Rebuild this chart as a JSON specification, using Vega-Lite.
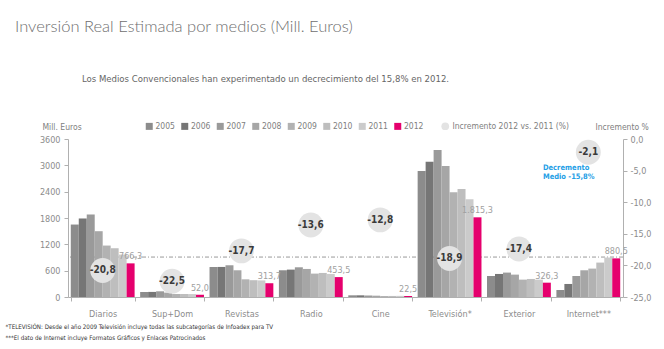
{
  "$schema": "https://vega.github.io/schema/vega-lite/v6.json",
  "width": 555,
  "height": 158,
  "autosize": {"type": "none"},
  "padding": {"left": 68, "top": 139, "right": 41, "bottom": 52},
  "background": "white",
  "config": {
    "locale": {"number": {"decimal": ",", "thousands": ".", "grouping": [3], "currency": ["", " €"], "minus": "-"}},
    "font": "DejaVu Sans Condensed, Roboto, sans-serif",
    "view": {"stroke": null},
    "axis": {
      "grid": false,
      "labelColor": "#8c8c8c",
      "labelFontSize": 9,
      "labelOverlap": false,
      "domainColor": "#b0b0b0",
      "tickColor": "#b0b0b0",
      "tickSize": 4,
      "titleFontWeight": "normal",
      "titleColor": "#808080",
      "titleFontSize": 8.5
    },
    "legend": {"labelColor": "#808080", "labelFontSize": 8.5}
  },
  "title": {
    "text": "Inversión Real Estimada por medios (Mill. Euros)",
    "anchor": "start",
    "frame": "group",
    "dx": -53,
    "offset": 38,
    "font": "Lato, DejaVu Sans Condensed, sans-serif",
    "fontSize": 16.5,
    "fontWeight": 300,
    "color": "#6f6f6f"
  },
  "datasets": {
    "inversion": [
      {"medio": "Diarios", "anio": "2005", "valor": 1651},
      {"medio": "Diarios", "anio": "2006", "valor": 1789},
      {"medio": "Diarios", "anio": "2007", "valor": 1880},
      {"medio": "Diarios", "anio": "2008", "valor": 1499},
      {"medio": "Diarios", "anio": "2009", "valor": 1172},
      {"medio": "Diarios", "anio": "2010", "valor": 1111},
      {"medio": "Diarios", "anio": "2011", "valor": 967},
      {"medio": "Diarios", "anio": "2012", "valor": 766.3},
      {"medio": "Sup+Dom", "anio": "2005", "valor": 114},
      {"medio": "Sup+Dom", "anio": "2006", "valor": 116},
      {"medio": "Sup+Dom", "anio": "2007", "valor": 130},
      {"medio": "Sup+Dom", "anio": "2008", "valor": 100},
      {"medio": "Sup+Dom", "anio": "2009", "valor": 68},
      {"medio": "Sup+Dom", "anio": "2010", "valor": 68},
      {"medio": "Sup+Dom", "anio": "2011", "valor": 67},
      {"medio": "Sup+Dom", "anio": "2012", "valor": 52.0},
      {"medio": "Revistas", "anio": "2005", "valor": 683},
      {"medio": "Revistas", "anio": "2006", "valor": 685},
      {"medio": "Revistas", "anio": "2007", "valor": 723},
      {"medio": "Revistas", "anio": "2008", "valor": 609},
      {"medio": "Revistas", "anio": "2009", "valor": 403},
      {"medio": "Revistas", "anio": "2010", "valor": 383},
      {"medio": "Revistas", "anio": "2011", "valor": 378},
      {"medio": "Revistas", "anio": "2012", "valor": 313.7},
      {"medio": "Radio", "anio": "2005", "valor": 609},
      {"medio": "Radio", "anio": "2006", "valor": 624},
      {"medio": "Radio", "anio": "2007", "valor": 677},
      {"medio": "Radio", "anio": "2008", "valor": 639},
      {"medio": "Radio", "anio": "2009", "valor": 533},
      {"medio": "Radio", "anio": "2010", "valor": 548},
      {"medio": "Radio", "anio": "2011", "valor": 525},
      {"medio": "Radio", "anio": "2012", "valor": 453.5},
      {"medio": "Cine", "anio": "2005", "valor": 38},
      {"medio": "Cine", "anio": "2006", "valor": 38},
      {"medio": "Cine", "anio": "2007", "valor": 34},
      {"medio": "Cine", "anio": "2008", "valor": 30},
      {"medio": "Cine", "anio": "2009", "valor": 22},
      {"medio": "Cine", "anio": "2010", "valor": 24},
      {"medio": "Cine", "anio": "2011", "valor": 26},
      {"medio": "Cine", "anio": "2012", "valor": 22.5},
      {"medio": "Televisión*", "anio": "2005", "valor": 2871},
      {"medio": "Televisión*", "anio": "2006", "valor": 3083},
      {"medio": "Televisión*", "anio": "2007", "valor": 3349},
      {"medio": "Televisión*", "anio": "2008", "valor": 2985},
      {"medio": "Televisión*", "anio": "2009", "valor": 2385},
      {"medio": "Televisión*", "anio": "2010", "valor": 2461},
      {"medio": "Televisión*", "anio": "2011", "valor": 2226},
      {"medio": "Televisión*", "anio": "2012", "valor": 1815.3},
      {"medio": "Exterior", "anio": "2005", "valor": 479},
      {"medio": "Exterior", "anio": "2006", "valor": 525},
      {"medio": "Exterior", "anio": "2007", "valor": 556},
      {"medio": "Exterior", "anio": "2008", "valor": 510},
      {"medio": "Exterior", "anio": "2009", "valor": 396},
      {"medio": "Exterior", "anio": "2010", "valor": 411},
      {"medio": "Exterior", "anio": "2011", "valor": 395},
      {"medio": "Exterior", "anio": "2012", "valor": 326.3},
      {"medio": "Internet***", "anio": "2005", "valor": 160},
      {"medio": "Internet***", "anio": "2006", "valor": 297},
      {"medio": "Internet***", "anio": "2007", "valor": 479},
      {"medio": "Internet***", "anio": "2008", "valor": 609},
      {"medio": "Internet***", "anio": "2009", "valor": 647},
      {"medio": "Internet***", "anio": "2010", "valor": 784},
      {"medio": "Internet***", "anio": "2011", "valor": 899},
      {"medio": "Internet***", "anio": "2012", "valor": 880.5}
    ],
    "incremento": [
      {"medio": "Diarios", "inc": -20.8, "serie": "Incremento 2012 vs. 2011 (%)"},
      {"medio": "Sup+Dom", "inc": -22.5, "serie": "Incremento 2012 vs. 2011 (%)"},
      {"medio": "Revistas", "inc": -17.7, "serie": "Incremento 2012 vs. 2011 (%)"},
      {"medio": "Radio", "inc": -13.6, "serie": "Incremento 2012 vs. 2011 (%)"},
      {"medio": "Cine", "inc": -12.8, "serie": "Incremento 2012 vs. 2011 (%)"},
      {"medio": "Televisión*", "inc": -18.9, "serie": "Incremento 2012 vs. 2011 (%)"},
      {"medio": "Exterior", "inc": -17.4, "serie": "Incremento 2012 vs. 2011 (%)"},
      {"medio": "Internet***", "inc": -2.1, "serie": "Incremento 2012 vs. 2011 (%)"}
    ],
    "referencia": [{"ref": 910}],
    "nota": [{"nota": "Decremento\nMedio -15,8%"}]
  },
  "layer": [
    {
      "layer": [
        {
          "data": {"name": "referencia"},
          "mark": {"type": "rule", "color": "#9a9a9a", "strokeDash": [4, 2, 1, 2], "strokeWidth": 1},
          "encoding": {"y": {"field": "ref", "type": "quantitative", "scale": {"domain": [0, 3600], "nice": false}, "axis": {"values": [0, 600, 1200, 1800, 2400, 3000, 3600], "labelOverlap": false, "format": "d"}}}
        },
        {
          "data": {"name": "inversion"},
          "mark": {"type": "bar"},
          "encoding": {
            "x": {
              "field": "medio", "type": "nominal",
              "sort": ["Diarios", "Sup+Dom", "Revistas", "Radio", "Cine", "Televisión*", "Exterior", "Internet***"],
              "scale": {"paddingInner": 0.08, "paddingOuter": 0.04},
              "axis": {
                "orient": "bottom",
                "tickBand": "extent",
                "labelAngle": 0,
                "labelPadding": 8,
                "title": ["*TELEVISIÓN: Desde el año 2009 Televisión  incluye todas las subcategorías de Infoadex para TV", "***El dato de Internet incluye Formatos Gráficos y Enlaces Patrocinados"],
                "titleX": -63,
                "titleY": 26,
                "titleAlign": "left",
                "titleBaseline": "top",
                "titleFontSize": 6.2,
                "titleColor": "#333333",
                "titleLineHeight": 11
              }
            },
            "xOffset": {"field": "anio", "type": "nominal"},
            "y": {
              "field": "valor", "type": "quantitative",
              "scale": {"domain": [0, 3600], "nice": false},
              "axis": {
                "values": [0, 600, 1200, 1800, 2400, 3000, 3600],
                "labelOverlap": false,
                "format": "d",
                "title": "Mill. Euros",
                "titleAngle": 0,
                "titleX": -26,
                "titleY": -13,
                "titleAlign": "left",
                "titleBaseline": "middle",
                "labelPadding": 4
              }
            },
            "color": {
              "field": "anio", "type": "nominal",
              "scale": {
                "domain": ["2005", "2006", "2007", "2008", "2009", "2010", "2011", "2012"],
                "range": ["#8c8c8c", "#767676", "#9a9a9a", "#a6a6a6", "#b2b2b2", "#bebebe", "#cbcbcb", "#e5006d"]
              },
              "legend": {
                "title": null,
                "orient": "none",
                "direction": "horizontal",
                "legendX": 77,
                "legendY": -17,
                "symbolType": "square",
                "symbolSize": 49,
                "symbolStrokeWidth": 0,
                "labelOffset": 2,
                "columnPadding": 5.5
              }
            }
          }
        },
        {
          "data": {"name": "inversion"},
          "transform": [{"filter": "datum.anio == '2012'"}],
          "mark": {"type": "text", "baseline": "bottom", "dy": -2, "fontSize": 9, "color": "#a0a0a0"},
          "encoding": {
            "x": {"field": "medio", "type": "nominal", "sort": ["Diarios", "Sup+Dom", "Revistas", "Radio", "Cine", "Televisión*", "Exterior", "Internet***"]},
            "xOffset": {"field": "anio", "type": "nominal"},
            "y": {"field": "valor", "type": "quantitative", "scale": {"domain": [0, 3600], "nice": false}, "axis": {"values": [0, 600, 1200, 1800, 2400, 3000, 3600], "labelOverlap": false, "format": "d"}},
            "text": {"field": "valor", "type": "quantitative", "format": ",.1f"}
          }
        }
      ]
    },
    {
      "layer": [
        {
          "data": {"name": "incremento"},
          "mark": {"type": "circle", "size": 620, "opacity": 1},
          "encoding": {
            "x": {
              "field": "medio", "type": "nominal",
              "sort": ["Diarios", "Sup+Dom", "Revistas", "Radio", "Cine", "Televisión*", "Exterior", "Internet***"],
              "axis": {
                "orient": "top",
                "labels": false,
                "ticks": false,
                "domain": false,
                "title": "Los Medios Convencionales han experimentado un decrecimiento del 15,8% en 2012.",
                "titleX": 197,
                "titleY": -61,
                "titleAlign": "center",
                "titleBaseline": "middle",
                "titleFontSize": 9.5,
                "titleColor": "#666666"
              }
            },
            "y": {
              "field": "inc", "type": "quantitative",
              "scale": {"domain": [-25, 0], "nice": false},
              "axis": {
                "orient": "right",
                "values": [0, -5, -10, -15, -20, -25],
                "labelOverlap": false,
                "format": ".1f",
                "title": "Incremento %",
                "titleAngle": 0,
                "titleX": -28,
                "titleY": -13,
                "titleAlign": "left",
                "titleBaseline": "middle",
                "labelPadding": 3
              }
            },
            "fill": {
              "field": "serie", "type": "nominal",
              "scale": {"range": ["#e3e3e3"]},
              "legend": {
                "title": null,
                "orient": "none",
                "legendX": 373,
                "legendY": -17,
                "symbolType": "circle",
                "symbolSize": 60,
                "symbolStrokeWidth": 0,
                "labelOffset": 3
              }
            }
          }
        },
        {
          "data": {"name": "incremento"},
          "mark": {"type": "text", "fontSize": 10, "fontWeight": "bold", "color": "#3a3a3a"},
          "encoding": {
            "x": {"field": "medio", "type": "nominal", "sort": ["Diarios", "Sup+Dom", "Revistas", "Radio", "Cine", "Televisión*", "Exterior", "Internet***"]},
            "y": {"field": "inc", "type": "quantitative", "scale": {"domain": [-25, 0], "nice": false}, "axis": {"values": [0, -5, -10, -15, -20, -25], "labelOverlap": false, "orient": "right"}},
            "text": {"field": "inc", "type": "quantitative", "format": ".1f"}
          }
        },
        {
          "data": {"name": "nota"},
          "mark": {"type": "text", "align": "left", "baseline": "top", "dx": 24, "fontSize": 7.5, "fontWeight": "bold", "color": "#1ea0e6", "lineBreak": "\n", "lineHeight": 9},
          "encoding": {
            "x": {"datum": "Exterior", "type": "nominal"},
            "y": {"datum": -4, "type": "quantitative", "scale": {"domain": [-25, 0], "nice": false}, "axis": {"values": [0, -5, -10, -15, -20, -25], "labelOverlap": false, "orient": "right"}},
            "text": {"field": "nota", "type": "nominal"}
          }
        }
      ]
    }
  ],
  "resolve": {"scale": {"y": "independent"}, "axis": {"x": "independent"}}
}
